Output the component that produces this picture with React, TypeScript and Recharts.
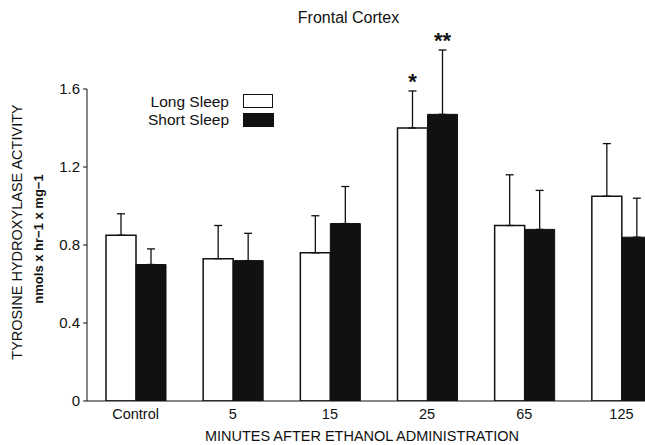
import { Bar, BarChart, ErrorBar, LabelList, XAxis, YAxis } from "recharts";

const groups = ["Control", "5", "15", "25", "65", "125"];
const longSleep = [0.85, 0.73, 0.76, 1.4, 0.9, 1.05];
const longErr = [0.11, 0.17, 0.19, 0.19, 0.26, 0.27];
const shortSleep = [0.7, 0.72, 0.91, 1.47, 0.88, 0.84];
const shortErr = [0.08, 0.14, 0.19, 0.33, 0.2, 0.2];
const longSig = ["", "", "", "*", "", ""];
const shortSig = ["", "", "", "**", "", ""];
const yTicks = [0, 0.4, 0.8, 1.2, 1.6];

const INK = "#111";
const FONT = "'Liberation Sans', Arial, sans-serif";

const data = groups.map((g, i) => ({
  group: g,
  long: longSleep[i],
  longErr: [0, longErr[i]],
  longSig: longSig[i],
  short: shortSleep[i],
  shortErr: [0, shortErr[i]],
  shortSig: shortSig[i],
}));

// star above the top of the error bar, using the bar's own px-per-unit
function sigLabel(errs: number[], vals: number[]) {
  return (props: any) => {
    const { x, y, width, height, value, index } = props;
    if (!value) return null;
    const perUnit = height / vals[index];
    const top = y - errs[index] * perUnit;
    return (
      <text
        x={x + width / 2}
        y={top - 2}
        textAnchor="middle"
        fontSize={22}
        fontWeight="bold"
        fontFamily={FONT}
        fill={INK}
      >
        {value}
      </text>
    );
  };
}

const abs = (s: React.CSSProperties): React.CSSProperties => ({
  position: "absolute",
  fontFamily: FONT,
  color: INK,
  whiteSpace: "nowrap",
  ...s,
});

export default function App() {
  return (
    <div
      style={{
        position: "fixed",
        left: 0,
        top: 0,
        width: 645,
        height: 445,
        overflow: "hidden",
        background: "#fff",
      }}
    >
      <BarChart
        width={681}
        height={445}
        data={data}
        margin={{ top: 89, right: 11, left: 27, bottom: 14 }}
        barCategoryGap={19}
        barGap={0}
      >
        <XAxis
          dataKey="group"
          height={30}
          tickLine={false}
          axisLine={{ stroke: INK, strokeWidth: 1.2 }}
          tick={{ fill: INK, fontSize: 14.5, fontFamily: FONT }}
          tickMargin={2}
          interval={0}
        />
        <YAxis
          width={60}
          domain={[0, 1.6]}
          allowDataOverflow
          ticks={yTicks}
          tickSize={4}
          tickMargin={3}
          tickFormatter={(v: number) => (v === 0 ? "0" : v.toFixed(1))}
          axisLine={{ stroke: INK, strokeWidth: 1 }}
          tickLine={{ stroke: INK }}
          tick={{ fill: INK, fontSize: 15, fontFamily: FONT }}
        />
        <Bar dataKey="long" fill="#fff" stroke={INK} strokeWidth={1.5} isAnimationActive={false}>
          <ErrorBar dataKey="longErr" width={4} stroke={INK} strokeWidth={1.3} />
          <LabelList dataKey="longSig" content={sigLabel(longErr, longSleep)} />
        </Bar>
        <Bar dataKey="short" fill={INK} stroke={INK} strokeWidth={1} isAnimationActive={false}>
          <ErrorBar dataKey="shortErr" width={4} stroke={INK} strokeWidth={1.3} />
          <LabelList dataKey="shortSig" content={sigLabel(shortErr, shortSleep)} />
        </Bar>
      </BarChart>

      <div style={abs({ left: 295, top: 9, fontSize: 16, width: 107, textAlign: "center" })}>Frontal Cortex</div>

      <div style={abs({ left: 0, top: 93, width: 229, textAlign: "right", fontSize: 15.5, lineHeight: "18px" })}>
        Long Sleep
      </div>
      <div style={abs({ left: 0, top: 111, width: 229, textAlign: "right", fontSize: 15.5, lineHeight: "18px" })}>
        Short Sleep
      </div>
      <div style={abs({ left: 243, top: 94, width: 28, height: 12, border: `1.5px solid ${INK}`, background: "#fff" })} />
      <div style={abs({ left: 243, top: 113, width: 31, height: 14, background: INK })} />

      <div
        style={abs({
          left: 17,
          top: 232,
          fontSize: 14.5,
          transform: "translate(-50%, -50%) rotate(-90deg)",
        })}
      >
        TYROSINE HYDROXYLASE ACTIVITY
      </div>
      <div
        style={abs({
          left: 38,
          top: 239,
          fontSize: 13,
          fontWeight: "bold",
          transform: "translate(-50%, -50%) rotate(-90deg)",
        })}
      >
        nmols x hr−1 x mg−1
      </div>

      <div style={abs({ left: 0, width: 724, top: 428, textAlign: "center", fontSize: 14.5 })}>
        MINUTES AFTER ETHANOL ADMINISTRATION
      </div>
    </div>
  );
}
